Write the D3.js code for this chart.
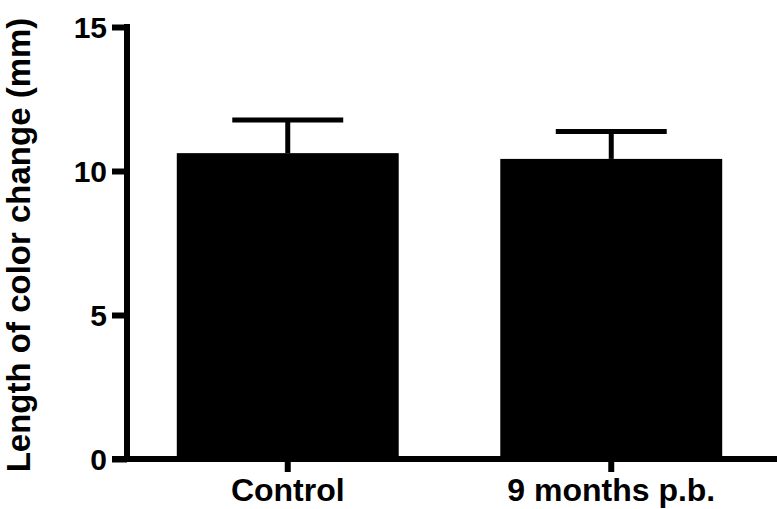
<!DOCTYPE html>
<html>
<head>
<meta charset="utf-8">
<script src="https://cdn.jsdelivr.net/npm/d3@7"></script>
<style>
  html, body { margin: 0; padding: 0; background: #fff; }
  svg { display: block; }
  text { font-family: Arial, "Liberation Sans", sans-serif; font-weight: bold; fill: #000; }
</style>
</head>
<body>
<div id="chart"></div>
<script>
// data
const categories = ['Control', '9 months p.b.'];
const means = [10.62, 10.42];
const errors = [1.15, 0.95];
const yTicks = [0, 5, 10, 15];
const yTitle = 'Length of color change (mm)';

const width = 777, height = 509;

const svg = d3.select('#chart')
    .append('svg')
    .attr('width', width)
    .attr('height', height);

const x = d3.scaleBand()
    .domain(categories)
    .range([126, 773])
    .paddingInner(0.314)
    .paddingOuter(0.157);

const y = d3.scaleLinear()
    .domain([0, 15])
    .range([459, 27]);

const rows = categories.map((c, i) => ({ cat: c, mean: means[i], err: errors[i] }));

// bars
svg.append('g')
    .selectAll('rect')
    .data(rows)
    .enter()
    .append('rect')
    .attr('x', d => x(d.cat))
    .attr('y', d => y(d.mean))
    .attr('width', x.bandwidth())
    .attr('height', d => y(0) - y(d.mean))
    .attr('fill', '#000');

// error bars (upper only)
const eb = svg.append('g').attr('stroke', '#000').attr('stroke-width', 5);
eb.selectAll('line.stem')
    .data(rows)
    .enter()
    .append('line')
    .attr('x1', d => x(d.cat) + x.bandwidth() / 2)
    .attr('x2', d => x(d.cat) + x.bandwidth() / 2)
    .attr('y1', d => y(d.mean))
    .attr('y2', d => y(d.mean + d.err));
eb.selectAll('line.cap')
    .data(rows)
    .enter()
    .append('line')
    .attr('x1', d => x(d.cat) + x.bandwidth() / 4)
    .attr('x2', d => x(d.cat) + x.bandwidth() * 3 / 4)
    .attr('y1', d => y(d.mean + d.err))
    .attr('y2', d => y(d.mean + d.err));

// y axis
const yAxis = svg.append('g')
    .attr('transform', 'translate(127,0)')
    .call(d3.axisLeft(y).tickValues(yTicks).tickSize(15).tickSizeOuter(0).tickPadding(5));
yAxis.select('.domain').attr('stroke-width', 6).attr('d', `M0,${y(15) - 3}V${y(0)}`);
yAxis.selectAll('.tick line').attr('stroke-width', 6);
yAxis.selectAll('.tick text').style('font-size', '30px').attr('dy', '0.36em');

// x axis
const xAxis = svg.append('g')
    .attr('transform', 'translate(0,459)')
    .call(d3.axisBottom(x).tickSize(13).tickSizeOuter(0).tickPadding(6));
xAxis.select('.domain').attr('stroke-width', 6).attr('d', 'M112,0H777');
xAxis.selectAll('.tick line').attr('stroke-width', 6);
xAxis.selectAll('.tick text').style('font-size', '32px').attr('dy', '0.71em').attr('y', 19);

// y title
svg.append('text')
    .attr('transform', 'translate(30,245) rotate(-90)')
    .attr('text-anchor', 'middle')
    .style('font-size', '33px')
    .text(yTitle);
</script>
</body>
</html>
